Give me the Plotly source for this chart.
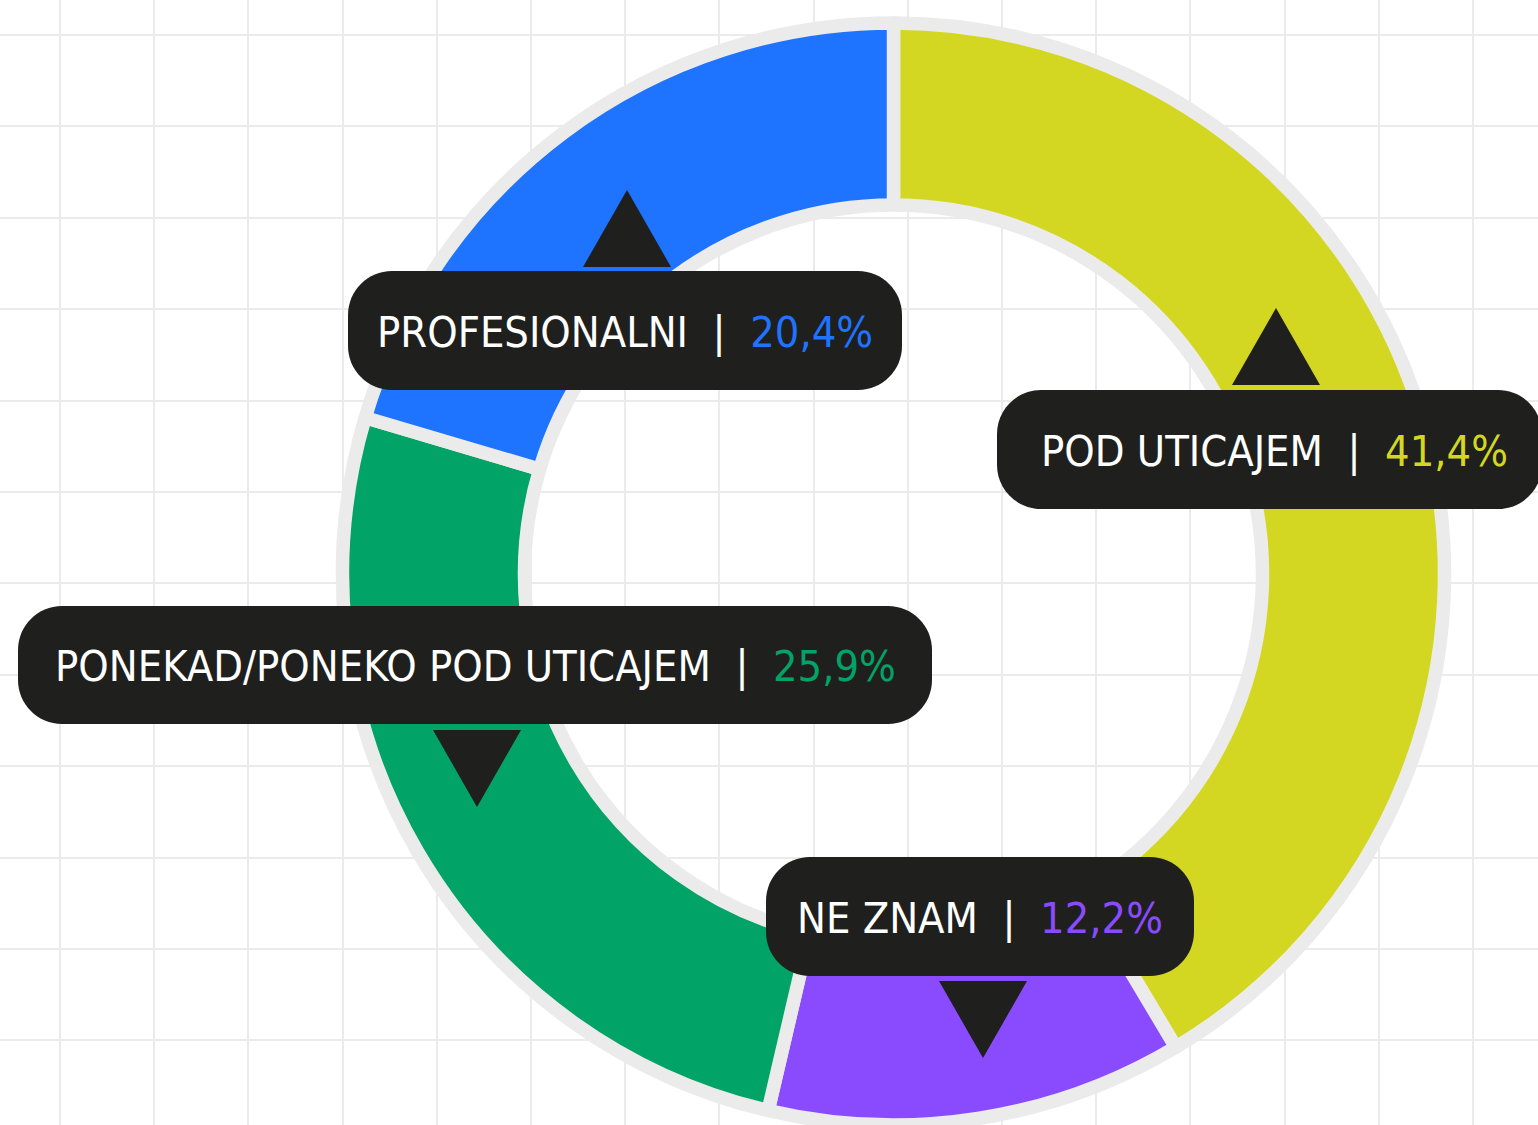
import plotly.graph_objects as go

# ---- data ----
categories = ["POD UTICAJEM", "NE ZNAM", "PONEKAD/PONEKO POD UTICAJEM", "PROFESIONALNI"]
values = [41.4, 12.2, 25.9, 20.4]
colors = ["#D4D721", "#8A4BFF", "#02A367", "#1E73FF"]

W, H = 1538, 1125
GRID = "#EBEBEB"
DARK = "#1F1F1E"
FONT = "DejaVu Sans Condensed, Liberation Sans Narrow, Roboto, sans-serif"

# label layout (pixel coordinates, y downwards): box x0, y0, x1, y1, triangle direction, triangle x
label_layout = [
    dict(box=(997, 390, 1542, 509), tri="up", tx=1276, tbase=385, cx=1274),
    dict(box=(766, 857, 1194, 976), tri="down", tx=983, tbase=981, cx=980),
    dict(box=(18, 606, 932, 724), tri="down", tx=477, tbase=730, cx=475),
    dict(box=(348, 271, 902, 390), tri="up", tx=627, tbase=267, cx=625),
]

fig = go.Figure()

# donut
cx, cy, R = 893.5, 574.0, 551.0
fig.add_trace(go.Pie(
    labels=categories, values=values, sort=False, direction="clockwise", rotation=0,
    hole=369 / R,
    marker=dict(colors=colors, line=dict(color=GRID, width=13.5)),
    textinfo="none", hoverinfo="skip", showlegend=False,
    domain=dict(x=[(cx - R) / W, (cx + R) / W], y=[0, (2 * R) / H]),
))


def rounded_rect(x0, y0, x1, y1, r):
    k = 0.5523 * r
    return (f"M {x0 + r},{y0} L {x1 - r},{y0} "
            f"C {x1 - r + k},{y0} {x1},{y0 + r - k} {x1},{y0 + r} "
            f"L {x1},{y1 - r} "
            f"C {x1},{y1 - r + k} {x1 - r + k},{y1} {x1 - r},{y1} "
            f"L {x0 + r},{y1} "
            f"C {x0 + r - k},{y1} {x0},{y1 - r + k} {x0},{y1 - r} "
            f"L {x0},{y0 + r} "
            f"C {x0},{y0 + r - k} {x0 + r - k},{y0} {x0 + r},{y0} Z")


shapes = []
annotations = []
tri_half, tri_h = 44, 77
nb = "\u00a0"
for cat, val, col, lay in zip(categories, values, colors, label_layout):
    x0, y0, x1, y1 = lay["box"]
    shapes.append(dict(type="path", path=rounded_rect(x0, y0, x1, y1, 44), xref="x", yref="y",
                       fillcolor=DARK, line=dict(width=0), layer="above"))
    tx, tb = lay["tx"], lay["tbase"]
    apex = tb - tri_h if lay["tri"] == "up" else tb + tri_h
    shapes.append(dict(type="path", path=f"M {tx - tri_half},{tb} L {tx + tri_half},{tb} L {tx},{apex} Z",
                       xref="x", yref="y", fillcolor=DARK, line=dict(width=0), layer="above"))
    pct = f"{val:.1f}".replace(".", ",") + "%"
    txt = f"{cat}{nb*2}|{nb*2}<span style='color:{col}'>{pct}</span>"
    annotations.append(dict(x=lay["cx"], y=(y0 + y1) / 2 + 1,
                            xref="x", yref="y", text=txt, showarrow=False,
                            font=dict(family=FONT, size=43, color="white"),
                            xanchor="center", yanchor="middle"))

fig.update_layout(
    width=W, height=H, margin=dict(l=0, r=0, t=0, b=0),
    paper_bgcolor="white", plot_bgcolor="white",
    xaxis=dict(range=[0, W], showgrid=True, gridcolor=GRID, gridwidth=2, tick0=60, dtick=94.2,
               showticklabels=False, zeroline=False, ticks="", showline=False, fixedrange=True),
    yaxis=dict(range=[H, 0], showgrid=True, gridcolor=GRID, gridwidth=2, tick0=35, dtick=91.4,
               showticklabels=False, zeroline=False, ticks="", showline=False, fixedrange=True),
    shapes=shapes, annotations=annotations,
)

fig.write_html("out.html", config={"displayModeBar": False},
               post_script="document.body.style.margin='0';document.body.style.overflow='hidden';")
